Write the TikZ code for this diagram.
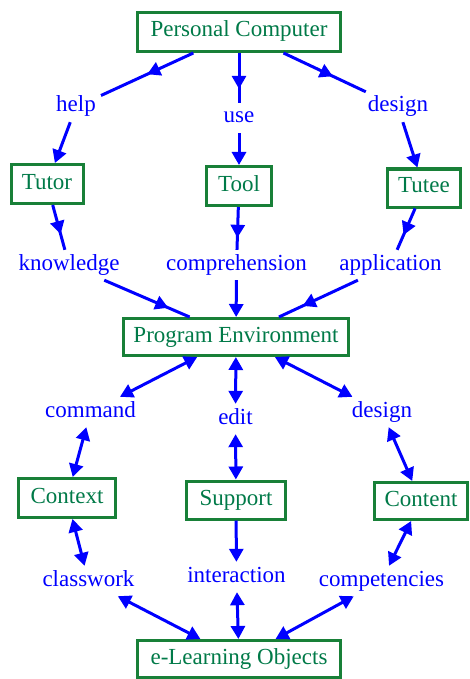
\documentclass[tikz,border=0pt]{standalone}
\usepackage{fontspec}
\setmainfont{Liberation Serif}
\usetikzlibrary{arrows.meta,decorations.markings}
\definecolor{boxgreen}{RGB}{24,128,56}
\definecolor{textgreen}{RGB}{0,122,72}
\definecolor{linkblue}{RGB}{0,0,255}
\begin{document}
\begin{tikzpicture}[x=1pt,y=-1pt,
  font=\fontsize{23}{27}\selectfont,
  concept/.style={draw=boxgreen, line width=3pt, text=textgreen, fill=white,
    inner sep=0pt, text height=15pt, text depth=5pt},
  phrase/.style={text=linkblue, inner sep=5pt, text height=15pt, text depth=5pt},
  link/.style={draw, color=linkblue, line width=3pt},
  tip/.style={-{Triangle[length=13pt,width=14pt]}},
  both/.style={{Triangle[length=13pt,width=14pt]}-{Triangle[length=13pt,width=14pt]}},
  midtip/.style={postaction={decorate},
    decoration={markings, mark=at position #1 with {\arrow{Triangle[length=13pt,width=14pt]}}}}
]
\useasboundingbox (0,0) rectangle (469,679);

% concepts
\node[concept, minimum width=203pt, minimum height=39pt] (pc) at (239,32) {Personal Computer};
\node[concept, minimum width=72pt, minimum height=39pt] (tutor) at (47,184) {Tutor};
\node[concept, minimum width=65pt, minimum height=39pt] (tool) at (239,186) {Tool};
\node[concept, minimum width=73pt, minimum height=38pt] (tutee) at (424,188) {Tutee};
\node[concept, minimum width=225pt, minimum height=37pt] (pe) at (236,337) {Program Environment};
\node[concept, minimum width=97pt, minimum height=39pt] (context) at (67,498) {Context};
\node[concept, minimum width=99pt, minimum height=38pt] (support) at (236,500) {Support};
\node[concept, minimum width=93pt, minimum height=37pt] (content) at (421,501) {Content};
\node[concept, minimum width=203pt, minimum height=37pt] (elo) at (239,659) {e-Learning Objects};

% linking phrases
\node[phrase] (help) at (76,107) {help};
\node[phrase] (use) at (239,118) {use};
\node[phrase] (design1) at (398,107) {design};
\node[phrase] (knowledge) at (69,265) {knowledge};
\node[phrase] (comprehension) at (236.5,265) {comprehension};
\node[phrase] (application) at (390.5,265) {application};
\node[phrase] (command) at (90.5,412) {command};
\node[phrase] (edit) at (235.5,419) {edit};
\node[phrase] (design2) at (382,412) {design};
\node[phrase] (classwork) at (88.5,581) {classwork};
\node[phrase] (interaction) at (236.5,577) {interaction};
\node[phrase] (competencies) at (381.5,581) {competencies};

% upper part: Personal Computer to Program Environment
\draw[link, midtip=0.5] (pc) -- (help);
\draw[link, midtip=0.72] (pc) -- (use);
\draw[link, midtip=0.6] (pc) -- (design1);
\draw[link, tip] (help) -- (tutor);
\draw[link, tip] (use) -- (tool);
\draw[link, tip] (design1) -- (tutee);
\draw[link, midtip=0.65] (tutor) -- (knowledge);
\draw[link, midtip=0.72] (tool) -- (comprehension);
\draw[link, midtip=0.64] (tutee) -- (application);
\draw[link, midtip=0.75] (knowledge) -- (pe);
\draw[link, tip] (comprehension) -- (pe);
\draw[link, midtip=0.7] (application) -- (pe);

% lower part: Program Environment to e-Learning Objects
\draw[link, both] (pe) -- (command);
\draw[link, both] (pe) -- (edit);
\draw[link, both] (pe) -- (design2);
\draw[link, both] (command) -- (context);
\draw[link, both] (edit) -- (support);
\draw[link, both] (design2) -- (content);
\draw[link, both] (context) -- (classwork);
\draw[link, tip] (support) -- (interaction);
\draw[link, both] (content) -- (competencies);
\draw[link, both] (classwork) -- (elo);
\draw[link, both] (interaction) -- (elo);
\draw[link, both] (competencies) -- (elo);
\end{tikzpicture}
\end{document}
